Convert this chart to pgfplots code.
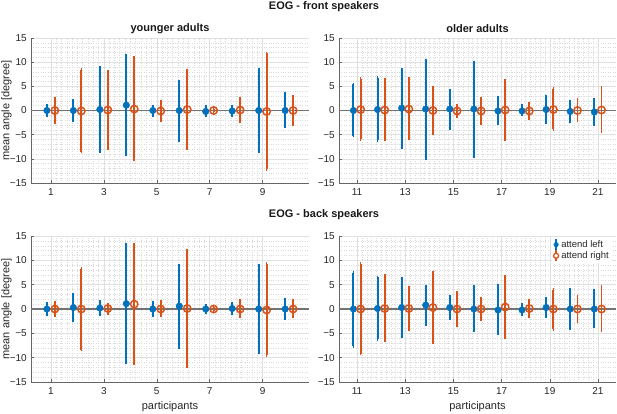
\documentclass[border=0pt]{standalone}
\usepackage{pgfplots}
\pgfplotsset{compat=1.18}
\usepackage{pgfplotstable}
\usepackage{fontspec}
\setmainfont{Liberation Sans}
\definecolor{mblue}{RGB}{0,114,189}
\definecolor{morange}{RGB}{217,83,25}

% columns: participant, mean, upper end, lower end
\pgfplotstableread{
p y hi lo
1 0 1.0 -1.0
2 0 2.0 -2.1
3 0.2 8.8 -8.4
4 1.1 11.3 -9.1
5 0 0.9 -1.0
6 0 6.0 -6.1
7 -0.2 0.8 -1.1
8 -0.1 0.9 -1.1
9 0 8.5 -8.5
10 0 3.4 -3.3
}\fyb
\pgfplotstableread{
p y hi lo
1 0 2.5 -2.4
2 -0.1 8.4 -8.5
3 0.1 8.1 -7.9
4 0.3 10.9 -10.2
5 -0.1 1.9 -2.0
6 0.2 8.2 -7.8
7 0 0.4 -0.4
8 0.1 2.5 -2.3
9 -0.2 11.8 -12.1
10 0 2.8 -2.8
}\fyo
\pgfplotstableread{
p y hi lo
11 0 5.4 -5.2
12 0.2 6.8 -6.1
13 0.5 8.5 -7.6
14 0.3 10.4 -10.0
15 0.3 4.2 -3.6
16 0.3 10.0 -9.4
17 -0.1 2.6 -2.7
18 -0.1 1.0 -0.9
19 0.2 2.8 -2.5
20 -0.2 1.9 -2.2
21 -0.3 2.2 -2.8
}\fob
\pgfplotstableread{
p y hi lo
11 0.2 6.6 -5.9
12 0.1 6.4 -5.9
13 0.3 6.5 -5.7
14 0 4.7 -4.7
15 -0.1 1.1 -1.2
16 -0.1 2.5 -2.7
17 0.1 6.1 -5.9
18 -0.1 1.5 -1.6
19 0.2 4.5 -3.9
20 0 2.3 -2.1
21 0.1 4.7 -4.4
}\foo
\pgfplotstableread{
p y hi lo
1 0 1.1 -1.1
2 0.3 2.9 -2.3
3 0.2 1.5 -1.2
4 1.1 13.2 -11.0
5 0 1.4 -1.3
6 0.6 8.9 -7.8
7 0 0.6 -0.6
8 0.1 1.1 -1.0
9 0 8.9 -9.0
10 0 2.0 -1.9
}\byb
\pgfplotstableread{
p y hi lo
1 0 1.3 -1.4
2 0 8.3 -8.4
3 0.1 1.0 -0.9
4 1.0 13.2 -11.1
5 0 1.5 -1.3
6 0.1 12.1 -11.7
7 0 0.4 -0.4
8 0 1.7 -1.5
9 -0.2 9.3 -9.5
10 0 1.7 -1.6
}\byo
\pgfplotstableread{
p y hi lo
11 0 7.5 -7.6
12 0.1 6.5 -6.2
13 0.3 6.2 -5.6
14 0.8 4.7 -3.1
15 0.3 2.5 -1.9
16 0 4.6 -4.4
17 -0.2 4.8 -5.1
18 -0.2 1.0 -1.2
19 0.3 2.1 -1.5
20 0 4.0 -3.9
21 0 3.8 -3.6
}\bob
\pgfplotstableread{
p y hi lo
11 0 9.3 -9.2
12 0.1 6.8 -6.5
13 0.1 4.4 -4.2
14 0.3 7.5 -6.8
15 0 3.3 -3.4
16 0 2.1 -2.1
17 0.4 6.6 -5.8
18 0.1 1.8 -1.6
19 0 4.0 -4.2
20 0 2.5 -2.6
21 0 4.7 -4.4
}\boo

\pgfplotsset{
  eog/.style={
    scale only axis, width=277pt, height=145pt, anchor=south west,
    ymin=-15, ymax=15, ytick={-15,-10,-5,0,5,10,15},
    yticklabels={−15,−10,−5,0,5,10,15},
    minor y tick num=4, minor x tick num=9,
    grid=both,
    major grid style={black!12, line width=0.5pt},
    minor grid style={black!14, line width=0.4pt, dash pattern=on 0.4pt off 2pt},
    axis x line*=bottom, axis y line*=left,
    axis line style={black!60, line width=0.5pt, -},
    tick style={black!60, line width=0.5pt},
    tick align=inside, major tick length=3pt, minor tick length=0pt,
    ticklabel style={font=\fontsize{10}{12}\selectfont, text=black!85},
    yticklabel style={inner sep=0pt, xshift=-4pt},
    xticklabel style={inner sep=0pt, yshift=-5pt},
  },
  young/.style={xmin=0.25, xmax=10.75, xtick={1,3,5,7,9}, xticklabels={1,3,5,7,9}},
  old/.style={xmin=10.25, xmax=21.75, xtick={11,13,15,17,19,21}, xticklabels={11,13,15,17,19,21}},
  bl/.style={only marks, mark=*, mark size=3.3pt, color=mblue,
    error bars/.cd, y dir=both, y explicit, error mark=-,
    error bar style={line width=2pt, mblue},
    error mark options={mblue, mark size=1.6pt, line width=1.8pt}, /pgfplots/.cd},
  or/.style={only marks, mark=o, mark size=3.7pt, color=morange, mark options={line width=1.5pt},
    error bars/.cd, y dir=both, y explicit, error mark=-,
    error bar style={line width=1.8pt, morange},
    error mark options={morange, mark size=1.6pt, line width=1.6pt}, /pgfplots/.cd},
  zl/.style={forget plot, black!55, line width=1.4pt},
}

\begin{document}
\begin{tikzpicture}
\path[use as bounding box] (0pt,0pt) rectangle (617pt,413pt);

% front, younger
\begin{axis}[eog, young, at={(31pt,230pt)}, width=278pt]
\addplot[zl] coordinates {(0.25,0) (10.75,0)};
\addplot[bl] table[x expr=\thisrow{p}-0.15, y=y, y error plus expr=\thisrow{hi}-\thisrow{y}, y error minus expr=\thisrow{y}-\thisrow{lo}]{\fyb};
\addplot[or] table[x expr=\thisrow{p}+0.15, y=y, y error plus expr=\thisrow{hi}-\thisrow{y}, y error minus expr=\thisrow{y}-\thisrow{lo}]{\fyo};
\end{axis}
% front, older
\begin{axis}[eog, old, at={(339pt,230pt)}]
\addplot[zl] coordinates {(10.25,0) (21.75,0)};
\addplot[bl] table[x expr=\thisrow{p}-0.15, y=y, y error plus expr=\thisrow{hi}-\thisrow{y}, y error minus expr=\thisrow{y}-\thisrow{lo}]{\fob};
\addplot[or] table[x expr=\thisrow{p}+0.15, y=y, y error plus expr=\thisrow{hi}-\thisrow{y}, y error minus expr=\thisrow{y}-\thisrow{lo}]{\foo};
\end{axis}
% back, younger
\begin{axis}[eog, young, at={(31pt,31pt)}, width=278pt, height=146pt]
\addplot[zl] coordinates {(0.25,0) (10.75,0)};
\addplot[bl] table[x expr=\thisrow{p}-0.15, y=y, y error plus expr=\thisrow{hi}-\thisrow{y}, y error minus expr=\thisrow{y}-\thisrow{lo}]{\byb};
\addplot[or] table[x expr=\thisrow{p}+0.15, y=y, y error plus expr=\thisrow{hi}-\thisrow{y}, y error minus expr=\thisrow{y}-\thisrow{lo}]{\byo};
\end{axis}
% back, older
\begin{axis}[eog, old, at={(339pt,31pt)}, height=146pt,
  legend style={at={(1,1)}, anchor=north east, xshift=-4pt, yshift=-1pt,
    draw=none, fill=white, inner sep=1pt, row sep=-1.5pt,
    font=\fontsize{9.5}{10}\selectfont, text=black!85},
  legend cell align=left]
\addplot[zl] coordinates {(10.25,0) (21.75,0)};
\addplot[legend image code/.code={
  \draw[mblue, line width=1.8pt] (0.3em,-0.55em) -- (0.3em,0.55em);
  \fill[mblue] (0.3em,0) circle (2.3pt);}, bl] table[x expr=\thisrow{p}-0.15, y=y, y error plus expr=\thisrow{hi}-\thisrow{y}, y error minus expr=\thisrow{y}-\thisrow{lo}]{\bob};
\addlegendentry{attend left}
\addplot[legend image code/.code={
  \draw[morange, line width=1.6pt] (0.3em,-0.55em) -- (0.3em,0.55em);
  \draw[morange, line width=1.3pt, fill=white] (0.3em,0) circle (2.5pt);}, or] table[x expr=\thisrow{p}+0.15, y=y, y error plus expr=\thisrow{hi}-\thisrow{y}, y error minus expr=\thisrow{y}-\thisrow{lo}]{\boo};
\addlegendentry{attend right}
\end{axis}

% titles and labels
\node[font=\bfseries\fontsize{11}{13}\selectfont, text=black!90] at (324pt,406.5pt) {EOG - front speakers};
\node[font=\bfseries\fontsize{11}{13}\selectfont, text=black!90] at (170pt,384pt) {younger adults};
\node[font=\bfseries\fontsize{11}{13}\selectfont, text=black!90] at (477.5pt,384pt) {older adults};
\node[font=\bfseries\fontsize{11}{13}\selectfont, text=black!90] at (324pt,198pt) {EOG - back speakers};
\node[font=\fontsize{11}{13}\selectfont, text=black!85] at (170pt,6pt) {participants};
\node[font=\fontsize{11}{13}\selectfont, text=black!85] at (477.5pt,6pt) {participants};
\node[font=\fontsize{11}{13}\selectfont, text=black!85, rotate=90] at (6.5pt,302.5pt) {mean angle [degree]};
\node[font=\fontsize{11}{13}\selectfont, text=black!85, rotate=90] at (6.5pt,104pt) {mean angle [degree]};
\end{tikzpicture}
\end{document}
